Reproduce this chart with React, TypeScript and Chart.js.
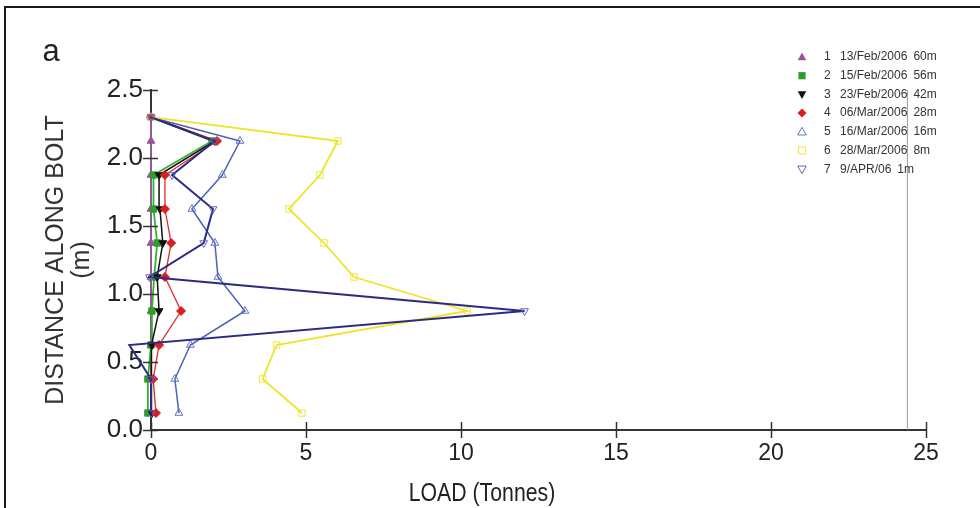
import React, { useEffect, useRef } from 'react';
import { Chart, registerables } from 'chart.js';

Chart.register(...registerables);

// ---- data ----
const DISTANCES = [0.125, 0.375, 0.625, 0.875, 1.125, 1.375, 1.625, 1.875, 2.125, 2.3];
const LOAD_1 = [0, 0, 0, 0, 0, 0, 0, 0, 0, 0];
const LOAD_2 = [-0.1, -0.1, 0, 0.03, 0.1, 0.2, 0.08, 0.08, 1.97, 0];
const LOAD_3 = [0.03, 0, 0.03, 0.26, 0.2, 0.38, 0.29, 0.26, 2.06, 0];
const LOAD_4 = [0.16, 0.07, 0.26, 0.97, 0.45, 0.65, 0.45, 0.45, 2.13, 0];
const LOAD_5 = [0.9, 0.77, 1.27, 3.03, 2.16, 2.06, 1.32, 2.3, 2.87, 0];
const LOAD_6 = [4.87, 3.6, 4.05, 10.2, 6.55, 5.58, 4.45, 5.45, 6.03, 0];
const LOAD_7 = [0, 0, -0.7, 12.05, -0.05, 1.7, 2.0, 0.68, 2.05, 0];

const LEGEND_NUM = ['1', '2', '3', '4', '5', '6', '7'];
const LEGEND_DATE = ['13/Feb/2006', '15/Feb/2006', '23/Feb/2006', '06/Mar/2006', '16/Mar/2006', '28/Mar/2006', '9/APR/06'];
const LEGEND_DIST = ['60m', '56m', '42m', '28m', '16m', '8m', '1m'];

const REF_LINE_X = [24.4, 24.4];
const REF_LINE_Y = [0, 2.5];

const X_TICK_STEP = 5;
const Y_TICK_STEP = 0.5;
const X_TITLE = 'LOAD (Tonnes)';
const Y_TITLE = ['DISTANCE ALONG BOLT', '(m)'];
const PANEL_LABEL = 'a';

// ---- styles ----
const SERIES_VALUES = [LOAD_1, LOAD_2, LOAD_3, LOAD_4, LOAD_5, LOAD_6, LOAD_7];
const STYLES = [
  { line: '#b565b4', mark: '#a0509a', shape: 'triangle', rot: 0, filled: true, width: 1.5 },
  { line: '#35b035', mark: '#2aa02a', shape: 'rect', rot: 0, filled: true, width: 1.8 },
  { line: '#111111', mark: '#111111', shape: 'triangle', rot: 180, filled: true, width: 1.5 },
  { line: '#e02828', mark: '#d81e1e', shape: 'rectRot', rot: 0, filled: true, width: 1.3 },
  { line: '#4a62b4', mark: '#5a72c4', shape: 'triangle', rot: 0, filled: false, width: 1.5 },
  { line: '#f0e428', mark: '#f0e440', shape: 'rect', rot: 0, filled: false, width: 1.8 },
  { line: '#2b2b85', mark: '#6464b8', shape: 'triangle', rot: 180, filled: false, width: 2 },
];

const SANS = '"Liberation Sans", Arial, Helvetica, sans-serif';
const TEXT = '#222222';

function drawMarker(ctx: CanvasRenderingContext2D, shape: string, rot: number, x: number, y: number, r: number) {
  ctx.beginPath();
  if (shape === 'triangle') {
    const s = rot === 180 ? -1 : 1;
    ctx.moveTo(x, y - s * r);
    ctx.lineTo(x - r * 0.95, y + s * r * 0.7);
    ctx.lineTo(x + r * 0.95, y + s * r * 0.7);
    ctx.closePath();
  } else if (shape === 'rect') {
    ctx.rect(x - r * 0.8, y - r * 0.8, r * 1.6, r * 1.6);
  } else {
    ctx.moveTo(x, y - r);
    ctx.lineTo(x + r, y);
    ctx.lineTo(x, y + r);
    ctx.lineTo(x - r, y);
    ctx.closePath();
  }
}

const decorPlugin = {
  id: 'decor',
  afterDraw(chart: any) {
    const ctx: CanvasRenderingContext2D = chart.ctx;
    const xs = chart.scales.x;
    const ys = chart.scales.y;
    ctx.save();
    // frame
    ctx.strokeStyle = '#1a1a1a';
    ctx.lineWidth = 2;
    ctx.beginPath();
    ctx.moveTo(5, 520);
    ctx.lineTo(5, 7);
    ctx.lineTo(990, 7);
    ctx.stroke();
    // panel letter
    ctx.fillStyle = TEXT;
    ctx.textAlign = 'center';
    ctx.textBaseline = 'middle';
    ctx.font = '31px ' + SANS;
    ctx.fillText(PANEL_LABEL, 51, 52);
    // x title (condensed)
    ctx.save();
    ctx.translate(482, 494);
    ctx.scale(0.85, 1);
    ctx.font = '25px ' + SANS;
    ctx.fillText(X_TITLE, 0, 0);
    ctx.restore();
    // crossing tick marks
    ctx.strokeStyle = '#333333';
    ctx.lineWidth = 1.5;
    xs.ticks.forEach((t: any) => {
      const px = Math.round(xs.getPixelForValue(t.value)) + 0.5;
      ctx.beginPath();
      ctx.moveTo(px, ys.bottom - 8);
      ctx.lineTo(px, ys.bottom + 8);
      ctx.stroke();
    });
    ys.ticks.forEach((t: any) => {
      const py = Math.round(ys.getPixelForValue(t.value)) + 0.5;
      ctx.beginPath();
      ctx.moveTo(xs.left - 8, py);
      ctx.lineTo(xs.left + 7, py);
      ctx.stroke();
    });
    // legend
    ctx.textAlign = 'left';
    ctx.font = '12px ' + SANS;
    LEGEND_NUM.forEach((num, i) => {
      const st = STYLES[i];
      const y = 57 + i * 18.7;
      drawMarker(ctx, st.shape, st.rot, 802, y, 4.5);
      if (st.filled) {
        ctx.fillStyle = st.mark;
        ctx.fill();
      } else {
        ctx.strokeStyle = st.mark;
        ctx.lineWidth = 1;
        ctx.stroke();
      }
      ctx.fillStyle = '#333333';
      ctx.fillText(num, 824, y);
      ctx.fillText(LEGEND_DATE[i], 840, y);
      const w = ctx.measureText(LEGEND_DATE[i]).width;
      ctx.fillText(LEGEND_DIST[i], 840 + w + 6, y);
    });
    ctx.restore();
  },
};

export default function App() {
  const ref = useRef<HTMLCanvasElement | null>(null);

  useEffect(() => {
    document.body.style.margin = '0';
    if (!ref.current) return;
    const datasets: any[] = SERIES_VALUES.map((vals, i) => {
      const st = STYLES[i];
      return {
        label: `${LEGEND_NUM[i]}  ${LEGEND_DATE[i]}  ${LEGEND_DIST[i]}`,
        data: DISTANCES.map((d, k) => ({ x: vals[k], y: d })),
        showLine: true,
        borderColor: st.line,
        borderWidth: st.width,
        pointStyle: st.shape,
        pointRotation: st.rot,
        pointRadius: 4.5,
        pointBorderWidth: 1,
        pointBorderColor: st.mark,
        pointBackgroundColor: st.filled ? st.mark : 'rgba(255,255,255,0)',
        clip: false,
        tension: 0,
        order: 10 - i,
      };
    });
    datasets.push({
      label: '',
      data: REF_LINE_X.map((x, k) => ({ x, y: REF_LINE_Y[k] })),
      showLine: true,
      borderColor: '#9a9a9a',
      borderWidth: 1,
      pointRadius: 0,
      order: 20,
    });

    const chart = new Chart(ref.current, {
      type: 'scatter',
      data: { datasets },
      options: {
        animation: false,
        responsive: true,
        maintainAspectRatio: false,
        layout: { padding: { top: 90, right: 54, left: 0, bottom: 0 } },
        plugins: { legend: { display: false }, tooltip: { enabled: false } },
        scales: {
          x: {
            type: 'linear',
            min: 0,
            max: 25,
            ticks: { stepSize: X_TICK_STEP, font: { size: 23, family: SANS }, color: TEXT, padding: 2 },
            grid: { display: false },
            border: { display: true, color: '#333333', width: 2 },
            afterFit: (s: any) => { s.height = 78; },
          },
          y: {
            type: 'linear',
            min: 0,
            max: 2.5,
            ticks: {
              stepSize: Y_TICK_STEP,
              callback: (v: any) => Number(v).toFixed(1),
              font: { size: 26, family: SANS },
              color: TEXT,
              padding: 0,
            },
            grid: { display: false },
            border: { display: true, color: '#333333', width: 2 },
            title: {
              display: true,
              text: Y_TITLE,
              color: '#333333',
              font: { size: 25, family: SANS, lineHeight: '26px' },
              padding: { top: 43, bottom: 0 },
            },
            afterFit: (s: any) => { s.width = 151; },
          },
        },
      } as any,
      plugins: [decorPlugin],
    });
    return () => chart.destroy();
  }, []);

  return (
    <div style={{ width: 980, height: 508, position: 'relative', background: '#ffffff' }}>
      <canvas ref={ref} />
    </div>
  );
}
